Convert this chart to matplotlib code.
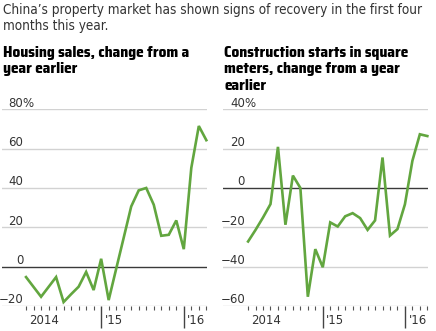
import matplotlib
matplotlib.use('Agg')
import matplotlib.pyplot as plt
from matplotlib import font_manager
from matplotlib.font_manager import FontProperties
from matplotlib.ft2font import FT2Font
import numpy as np

# monthly readings (Jan-Feb combined), Mar 2014 .. May 2016
months = np.arange(25)
housing = [-5.3, -10.3, -15.3, -10.3, -5.3, -18.0, -14.0, -10.2, -2.7, -11.9,
           4.0, -17.0, -1.1, 14.7, 30.6, 38.8, 40.0, 31.5, 15.7, 16.2,
           23.5, 8.9, 50.2, 71.5, 64.3]
construction = [-27.2, -21.3, -15.0, -8.2, 20.9, -18.7, 6.3, 0.0, -55.3, -31.1,
                -40.3, -17.5, -19.6, -14.4, -12.8, -15.3, -21.3, -16.5, 15.5, -24.2,
                -20.9, -8.3, 13.8, 27.3, 26.4]
housing_ticks = [-20, 0, 20, 40, 60, 80]
construction_ticks = [-60, -40, -20, 0, 20, 40]
year_starts = [10, 21]
year_labels = ["'15", "'16"]

title1 = "China\u2019s property market has shown signs of recovery in the first four"
left_head = ["Housing sales, change from a", "year earlier"]
right_head = ["Construction starts in square", "meters, change from a year", "earlier"]

W, H = 436, 331
fig = plt.figure(figsize=(W / 100, H / 100), dpi=100)
renderer = fig.canvas.get_renderer()
GREEN = '#62a63f'
GRID = '#d2d2d2'
TXT = '#333333'


def fx(px):
    return px / W


def fy(py):
    return 1 - py / H


def text_width(s, fp, size=10):
    p = fp.copy()
    p.set_size(size)
    t = fig.text(0, 0, s, fontproperties=p)
    w = t.get_window_extent(renderer).width
    t.remove()
    return w


def has_glyphs(fname, s):
    try:
        cmap = FT2Font(fname).get_charmap()
    except Exception:
        return False
    return all(ord(c) in cmap for c in s if c != ' ')


# condensed latin face whose width at 10pt is nearest the wanted one
def pick_face(sample, want_w, min_w, max_w, fallback_weight):
    best = None
    for f in font_manager.fontManager.ttflist:
        narrow = ('Narrow' in f.name or 'Condensed' in f.name
                  or f.stretch in ('condensed', 'semi-condensed'))
        w = f.weight if isinstance(f.weight, int) else 400
        if not narrow or f.style != 'normal' or not (min_w <= w <= max_w):
            continue
        if not has_glyphs(f.fname, sample + "'0123456789"):
            continue
        fp = FontProperties(fname=f.fname)
        d = abs(text_width(sample, fp) - want_w)
        if best is None or d < best[0]:
            best = (d, fp)
    if best:
        return best[1]
    return FontProperties(family='Roboto', weight=fallback_weight)


# widths at 10pt that give the reference's letter height at the reference's line width
REG = pick_face(title1, 430, 350, 500, 'normal')
BOLD = pick_face(left_head[0], 170, 650, 800, 'bold')


def sized(fp, size):
    p = fp.copy()
    p.set_size(size)
    return p


ft = sized(REG, 10 * 419 / text_width(title1, REG))
fig.text(fx(3), fy(14), title1, fontproperties=ft, color=TXT, va='baseline')
fig.text(fx(3), fy(30), "months this year.", fontproperties=ft, color=TXT, va='baseline')

fh = sized(BOLD, 10 * 186 / text_width(left_head[0], BOLD))
for i, line in enumerate(left_head):
    fig.text(fx(3), fy(57 + 16.5 * i), line, fontproperties=fh, color='black', va='baseline')
for i, line in enumerate(right_head):
    fig.text(fx(224), fy(57 + 16.5 * i), line, fontproperties=fh, color='black', va='baseline')


def panel(rect, xlo, values, ticks, lab_x):
    ax = fig.add_axes(rect)
    ax.set_xlim(xlo, 24.05)
    ax.set_ylim(ticks[0], ticks[-1])
    for s in ax.spines.values():
        s.set_visible(False)
    for t in ticks:
        if t == 0:
            ax.axhline(t, color='#3a3a3a', lw=1.0, zorder=2)
        else:
            ax.axhline(t, color=GRID, lw=1.0, zorder=1)
        lab = str(t).replace('-', '\u2212')
        ax.annotate(lab, xy=(lab_x, t), xytext=(0, 2), textcoords='offset points',
                    ha='right', va='baseline', fontsize=8.5, color=TXT)
        if t == ticks[-1]:
            ax.annotate('%', xy=(lab_x, t), xytext=(-0.6, 2), textcoords='offset points',
                        ha='left', va='baseline', fontsize=8.5, color=TXT)
    ax.plot(months, values, color=GREEN, lw=1.9, zorder=3, clip_on=False,
            solid_joinstyle='miter')
    ax.set_yticks([])
    minor = [m for m in months if m not in year_starts]
    ax.set_xticks(year_starts)
    ax.set_xticks(minor, minor=True)
    ax.set_xticklabels([])
    ax.tick_params(axis='x', which='major', length=16, width=1.0, color='#444444')
    ax.tick_params(axis='x', which='minor', length=3, width=0.8, color='#555555')
    ax.annotate('2014', xy=(2.35, 0), xycoords=('data', 'axes fraction'),
                xytext=(0, -17.5 * 0.72), textcoords='offset points',
                ha='center', va='baseline', fontsize=8.5, color=TXT)
    for x, lab in zip(year_starts, year_labels):
        ax.annotate(lab, xy=(x, 0), xycoords=('data', 'axes fraction'),
                    xytext=(2.5, -17.5 * 0.72), textcoords='offset points',
                    ha='left', va='baseline', fontsize=8.5, color=TXT)
    return ax


bottom = fy(306)
height = fy(109.3) - bottom
panel([fx(2), bottom, fx(206.7) - fx(2), height], -3.2, housing, housing_ticks, -0.36)
panel([fx(222.7), bottom, fx(427.7) - fx(222.7), height], -3.4, construction,
      construction_ticks, -0.4)

fig.savefig('out.png', dpi=100)
